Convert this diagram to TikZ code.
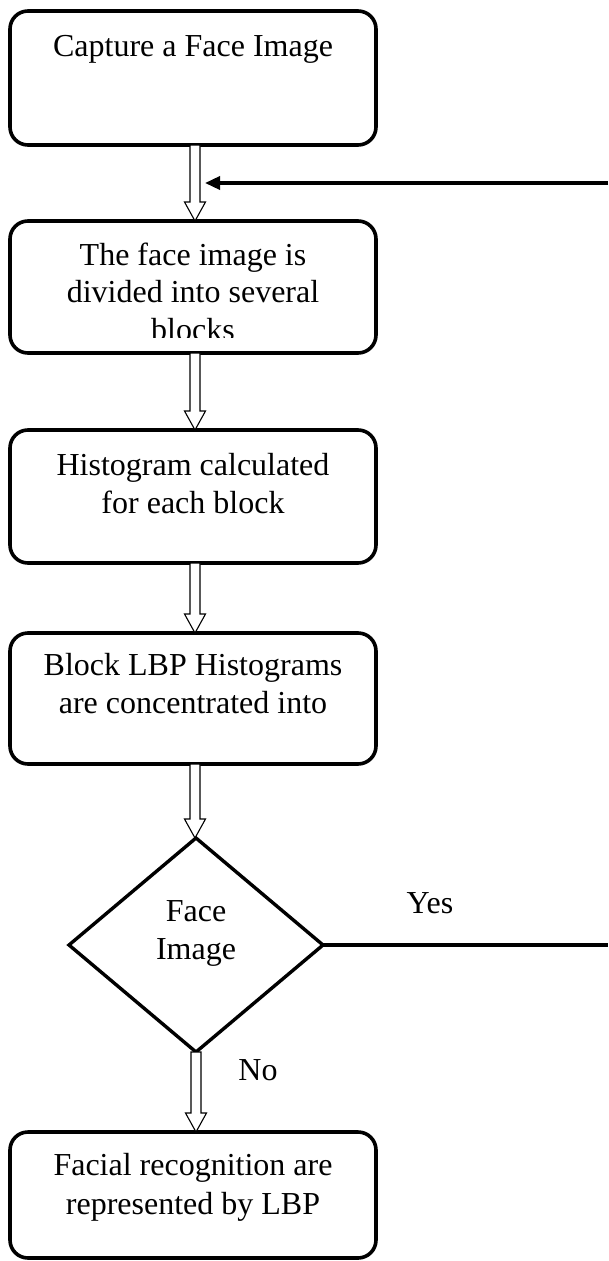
\documentclass[tikz,border=0pt]{standalone}
\usepackage{fontspec}
\setmainfont{Liberation Serif}
\usetikzlibrary{shapes.geometric,arrows.meta,calc}
\tikzset{
  x=1pt,y=-1pt,
  stepbox/.style={draw,line width=3.6pt,rectangle,rounded corners=18pt,minimum width=366pt,inner sep=0pt,outer sep=0pt},
  decision/.style={draw,line width=3.4pt,diamond,minimum width=254pt,minimum height=214pt,inner sep=0pt,outer sep=0pt},
  txt/.style={anchor=base,inner sep=0pt,font=\fontsize{32}{38}\selectfont},
  hollow/.style={draw,line width=1.1pt,fill=white,line join=miter,
    to path={let \p1=(\tikztostart), \p2=(\tikztotarget) in
      ({\x1-5pt},{\y1}) -- ({\x1-5pt},{\y2+19pt}) -- ({\x1-10.5pt},{\y2+19pt}) -- ({\x1},{\y2})
      -- ({\x1+10.5pt},{\y2+19pt}) -- ({\x1+5pt},{\y2+19pt}) -- ({\x1+5pt},{\y1}) -- cycle}},
  thickline/.style={line width=3.4pt}
}
\begin{document}
\begin{tikzpicture}
\useasboundingbox (0,0) rectangle (608,1261);
% boxes
\node[stepbox,minimum height=134pt] (b1) at (193,78) {};
\node[stepbox,minimum height=132pt] (b2) at (193,287) {};
\node[stepbox,minimum height=133pt] (b3) at (193,496.5) {};
\node[stepbox,minimum height=131pt] (b4) at (193,698.5) {};
\node[decision] (d) at (196,945) {};
\node[stepbox,minimum height=126pt] (b5) at (193,1195) {};
% texts
\node[txt] (t1) at (193,56) {Capture a Face Image};
\node[txt] (t2a) at (193,265) {The face image is};
\node[txt] (t2b) at (193,302) {divided into several};
\begin{scope}
\clip (10,300) rectangle (376,337);
\node[txt] (t2c) at (193,340) {blocks};
\end{scope}
\node[txt] (t3a) at (193,475) {Histogram calculated};
\node[txt] (t3b) at (193,513) {for each block};
\node[txt] (t4a) at (193,675) {Block LBP Histograms};
\node[txt] (t4b) at (193,713) {are concentrated into};
\node[txt] (td1) at (196,921) {Face};
\node[txt] (td2) at (196,959) {Image};
\node[txt] (t5a) at (193,1175) {Facial recognition are};
\node[txt] (t5b) at (193,1214) {represented by LBP};
\node[txt] (yes) at (430,913) {Yes};
\node[txt] (no) at (258,1080) {No};
% hollow arrows
\path[hollow] ($(b1.south)+(2,0)$) to ($(b2.north)+(2,0)$);
\path[hollow] ($(b2.south)+(2,0)$) to ($(b3.north)+(2,0)$);
\path[hollow] ($(b3.south)+(2,0)$) to ($(b4.north)+(2,0)$);
\path[hollow] ($(b4.south)+(2,0)$) to (d.north);
\path[hollow] (d.south) to ($(b5.north)+(2,0)$);
% feedback
\coordinate (yesend) at (608,945);
\coordinate (fbstart) at (608,183);
\coordinate (fbend) at (205,183);
\draw[thickline] (d.east) -- (yesend);
\draw[thickline,-{Triangle[length=15pt,width=13pt]}] (fbstart) -- (fbend);
\end{tikzpicture}
\end{document}
